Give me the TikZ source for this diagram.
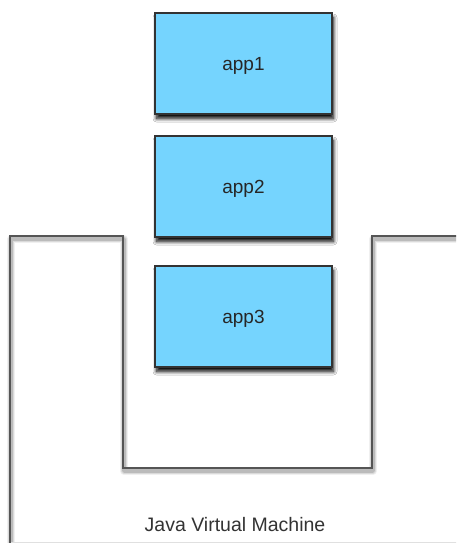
\documentclass[tikz,border=0pt]{standalone}
\usepackage{fontspec}
\setmainfont{Liberation Sans}
\usetikzlibrary{shadows.blur}
\definecolor{appblue}{HTML}{75D4FE}
\definecolor{boxedge}{HTML}{333333}
\definecolor{jvmedge}{HTML}{555555}
\begin{document}
\begin{tikzpicture}[x=1pt,y=-1pt,
  appbox/.style={draw=boxedge, line width=1.3pt, fill=appblue,
    minimum width=177pt, minimum height=101pt, inner sep=0pt,
    text depth=0pt, font=\fontsize{19}{22}\selectfont, text=black!85,
    blur shadow={shadow xshift=1.5pt, shadow yshift=-4.5pt,
      shadow blur radius=3.5pt, shadow blur steps=10, shadow opacity=100}},
  jvmline/.style={draw=jvmedge, line width=1.8pt, line join=miter},
  jvmshade/.style={draw=black, line join=round}]
\useasboundingbox (0,0) rectangle (456,543);
\clip (0,0) rectangle (456,543);
\fill[white] (0,0) rectangle (456,543);

% soft shadow under the JVM outline
\foreach \w/\o in {8/0.06, 5.5/0.09, 3.5/0.14}{
  \draw[jvmshade, line width=\w pt, opacity=\o, xshift=1pt, yshift=-3pt]
    (470,236) -- (372,236) -- (372,468) -- (123,468) -- (123,236) -- (10,236) -- (10,560);
}
% JVM outline: a container open at the top
\draw[jvmline] (470,236) -- (372,236) -- (372,468) -- (123,468) -- (123,236) -- (10,236) -- (10,560);
\draw[black!12, line width=1pt] (11,542) -- (470,542);

\node[font=\fontsize{19.5}{22}\selectfont, text=black!80] (jvm) at (235,524.5) {Java Virtual Machine};

% applications
\node[appbox] (app1) at (243.5,63.5) {app1};
\node[appbox] (app2) at (243.5,186.5) {app2};
\node[appbox] (app3) at (243.5,316.5) {app3};
\end{tikzpicture}
\end{document}
